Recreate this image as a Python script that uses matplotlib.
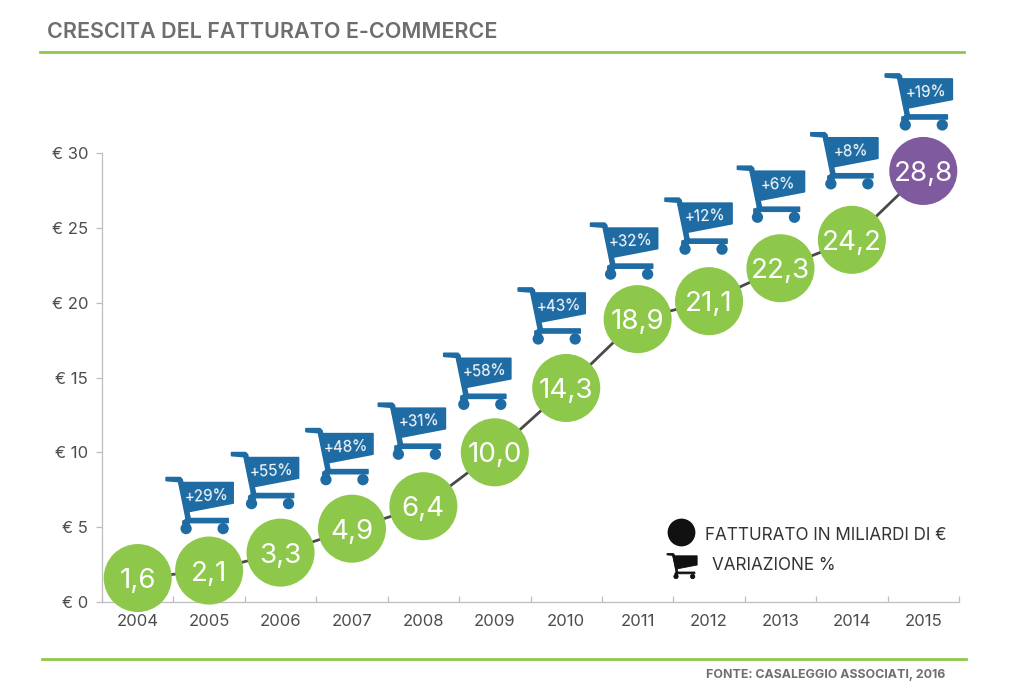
import matplotlib
matplotlib.use("Agg")
import matplotlib.pyplot as plt
from matplotlib.path import Path
from matplotlib.patches import PathPatch
from matplotlib.lines import Line2D
from matplotlib.transforms import Affine2D, ScaledTranslation

plt.rcParams['font.family'] = ['Inter', 'DejaVu Sans']

years = ['2004','2005','2006','2007','2008','2009','2010','2011','2012','2013','2014','2015']
value_labels = ['1,6','2,1','3,3','4,9','6,4','10,0','14,3','18,9','21,1','22,3','24,2','28,8']
# height of each circle on the axis as drawn (the 2012 circle sits below its printed value)
revenue = [1.6,2.1,3.3,4.9,6.4,10.0,14.3,18.9,20.1,22.3,24.2,28.8]
growth = [None,'+29%','+55%','+48%','+31%','+58%','+43%','+32%','+12%','+6%','+8%','+19%']
y_ticks = [0,5,10,15,20,25,30]

# cart offsets from the matching circle centre, in pixels
cart_dx = [0,-43,-49,-46,-45,-51,-48,-47,-44,-43,-41,-38]
cart_dy = [0,-92,-99,-99,-102,-98,-99,-95,-102,-101,-106,-96]

W, H, DPI = 1020, 697, 100
GREEN, PURPLE, BLUE = '#8dc84a', '#7f5a9e', '#1f6ba3'
GREY, DARK = '#6d6e70', '#4d4d4f'

fig = plt.figure(figsize=(W/DPI, H/DPI), dpi=DPI, facecolor='white')
L, R, T, B = 102, 959, 153, 602
ax = fig.add_axes([L/W, 1-B/H, (R-L)/W, (B-T)/H])
ax.set_xlim(-0.5, 11.5)
ax.set_ylim(0, 30)
for s in ('top', 'right'):
    ax.spines[s].set_visible(False)
for s in ('left', 'bottom'):
    ax.spines[s].set_color('#bcbec0')
    ax.spines[s].set_linewidth(0.9)

xs = list(range(len(years)))
ax.set_yticks(y_ticks)
ax.set_yticklabels([f'€ {v}' for v in y_ticks], fontsize=12, color=DARK)
ax.tick_params(axis='y', length=4, width=0.9, color='#bcbec0', pad=6)
ax.set_xticks(xs)
ax.set_xticklabels(years, fontsize=12, color=DARK)
ax.tick_params(axis='x', which='major', length=0, pad=9)
ax.set_xticks([x-0.5 for x in range(len(years)+1)], minor=True)
ax.tick_params(axis='x', which='minor', direction='in', length=4, width=0.9, color='#bcbec0')

ax.plot(xs, revenue, color='#4a4a4a', lw=2, zorder=2, clip_on=False)
colors = [GREEN]*(len(years)-1) + [PURPLE]
ax.scatter(xs, revenue, s=2400, c=colors, linewidths=0, zorder=3, clip_on=False)
for x, v, lab in zip(xs, revenue, value_labels):
    ax.annotate(lab, xy=(x, v), xytext=(0, -2.2), textcoords='offset points',
                color='white', fontsize=20, ha='center', va='center', zorder=4,
                annotation_clip=False)

def cart_parts():
    """Shopping cart pieces, pixel units, origin at handle's left end, y downward."""
    M, LN, C = Path.MOVETO, Path.LINETO, Path.CLOSEPOLY
    def poly(pts):
        return Path(pts + [pts[0]], [M] + [LN]*(len(pts)-1) + [C])
    return [
        poly([(0,-1),(14,-1),(16,1),(24,40),(62,40),(62,44),(17,44),(20,40),(12.5,3),(0,2)]),
        poly([(13,4),(67,4),(67,24.5),(20,33.5)]),
        poly([(17,42),(23,42),(23,48),(17,48)]),
        Path.circle((20,50),4.8),
        Path.circle((57,50),4.8),
    ]

CART = cart_parts()

for x, v, g, dx, dy in zip(xs, revenue, growth, cart_dx, cart_dy):
    if g is None:
        continue
    anchor = fig.dpi_scale_trans + ScaledTranslation(x, v, ax.transData)
    tf = Affine2D().scale(1, -1).translate(dx, -dy).scale(1/DPI) + anchor
    for part in CART:
        ax.add_artist(PathPatch(part, facecolor=BLUE, edgecolor=BLUE, lw=1.2, joinstyle='round',
                                transform=tf, zorder=5, clip_on=False))
    ax.annotate(g, xy=(x, v), xycoords='data',
                xytext=((dx+40)*72/DPI, -(dy+17.5)*72/DPI), textcoords='offset points',
                color='white', fontsize=11, ha='center', va='center', rotation=3,
                zorder=6, annotation_clip=False)

def ftext(px, py, s, **kw):
    fig.text(px/W, 1-py/H, s, **kw)

def fline(x0, x1, py, color=GREEN, lw=2):
    fig.add_artist(Line2D([x0/W, x1/W], [1-py/H, 1-py/H], color=color, lw=lw))

ftext(47, 31.5, 'CRESCITA DEL FATTURATO E-COMMERCE', fontsize=15.5, fontweight='semibold',
      color=GREY, ha='left', va='center')
fline(40, 964, 51.5)
fline(42, 966, 659)
ftext(945, 675, 'FONTE: CASALEGGIO ASSOCIATI, 2016', fontsize=8.9, fontweight='bold',
      color=GREY, ha='right', va='center')

# legend
leg = fig.add_axes([0, 0, 1, 1], facecolor='none', zorder=10)
leg.set_axis_off()
leg.set_xlim(0, W)
leg.set_ylim(H, 0)
leg.scatter([681], [532], s=400, c='#111111', linewidths=0)
tf = Affine2D().scale(0.45, 0.45).translate(667, 554) + leg.transData
for part in CART:
    leg.add_patch(PathPatch(part, facecolor='#111111', edgecolor='#111111', lw=0.6, transform=tf))
leg.text(705, 536, 'FATTURATO IN MILIARDI DI €', fontsize=12.3, color='#333333', ha='left', va='center')
leg.text(712, 565, 'VARIAZIONE %', fontsize=12.3, color='#333333', ha='left', va='center')

fig.savefig('out.png', dpi=DPI, facecolor='white')
